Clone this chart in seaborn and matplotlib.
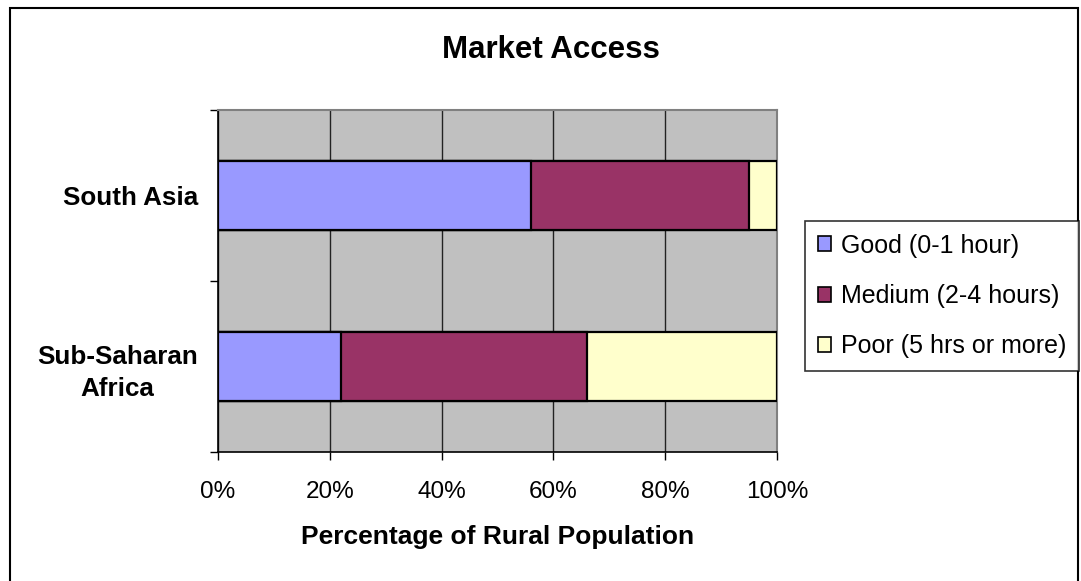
import matplotlib
matplotlib.use("Agg")
import matplotlib.pyplot as plt
import seaborn as sns
import pandas as pd
import numpy as np
from matplotlib.patches import Patch, Rectangle

regions = ["South Asia", "Sub-Saharan\nAfrica"]
good = [56, 22]
medium = [39, 44]
poor = [5, 34]
series_names = ["Good (0-1 hour)", "Medium (2-4 hours)", "Poor (5 hrs or more)"]
colors = ["#9999FF", "#993366", "#FFFFCC"]
xticks = [0, 20, 40, 60, 80, 100]
xtick_labels = ["0%", "20%", "40%", "60%", "80%", "100%"]

sns.set_style("white")
plt.rcParams['font.family'] = ['Liberation Sans', 'DejaVu Sans']
plt.rcParams['text.color'] = 'black'
plt.rcParams['axes.labelcolor'] = 'black'
plt.rcParams['xtick.color'] = 'black'
plt.rcParams['ytick.color'] = 'black'

fig = plt.figure(figsize=(10.81, 5.81), dpi=100)
ax = fig.add_axes([218/1081, 1-452/581, (777-218)/1081, (452-110)/581])
ax.set_facecolor("#C0C0C0")

df = pd.DataFrame({"region": regions, "good": good, "medium": medium, "poor": poor})
df["c1"] = df["good"]
df["c2"] = df["good"] + df["medium"]
df["c3"] = df["c2"] + df["poor"]

for col, color in zip(["c3", "c2", "c1"], colors[::-1]):
    sns.barplot(data=df, y="region", x=col, orient="h", color=color, width=0.4,
                edgecolor="black", linewidth=1.6, saturation=1, ax=ax, zorder=3)

ax.set_xlim(0, 100)
ax.set_ylim(1.5, -0.5)
ax.set_xticks(xticks)
ax.set_xticklabels(xtick_labels, fontsize=17.5)
ax.xaxis.grid(True, color="#222222", linewidth=1.0, zorder=1)
ax.yaxis.grid(False)
ax.set_axisbelow(True)

ax.set_yticks([0, 1])
ax.set_yticklabels(regions, fontsize=18.7, fontweight="bold", multialignment="center",
                   linespacing=1.4)
for lbl in ax.get_yticklabels():
    if "\n" in lbl.get_text():
        lbl.set_y(0.97)
ax.set_yticks([-0.5, 0.5, 1.5], minor=True)
ax.tick_params(axis="y", which="major", length=0, pad=14.5)
ax.tick_params(axis="y", which="minor", length=6, width=1, color="black", direction="out", left=True)
ax.tick_params(axis="x", which="major", length=6, width=1, color="black", direction="out", bottom=True, pad=15)
ax.set_ylabel("")
ax.set_xlabel("Percentage of Rural Population", fontsize=19, fontweight="bold", labelpad=16)

for s in ["top", "right"]:
    ax.spines[s].set_color("#808080")
    ax.spines[s].set_linewidth(1.5)
for s in ["left", "bottom"]:
    ax.spines[s].set_color("black")
    ax.spines[s].set_linewidth(1.2)

fig.text(551/1081, 1-50/581, "Market Access", ha="center", va="center",
         fontsize=22.5, fontweight="bold")

handles = [Patch(facecolor=c, edgecolor="black", linewidth=1.2) for c in colors]
leg = fig.legend(handles, series_names, loc="center left",
                 bbox_to_anchor=(805/1081, 1-296/581), frameon=True, fancybox=False,
                 edgecolor="black", fontsize=18, handlelength=0.55, handleheight=0.55,
                 handletextpad=0.4, labelspacing=1.05, borderpad=0.5, borderaxespad=0)
leg.get_frame().set_linewidth(1.2)

fig.patches.append(Rectangle((10/1081, -0.01), (1078-10)/1081, 1-8/581+0.01,
                             transform=fig.transFigure, fill=False,
                             edgecolor="black", linewidth=1.5))

fig.savefig("out.png", dpi=100)
